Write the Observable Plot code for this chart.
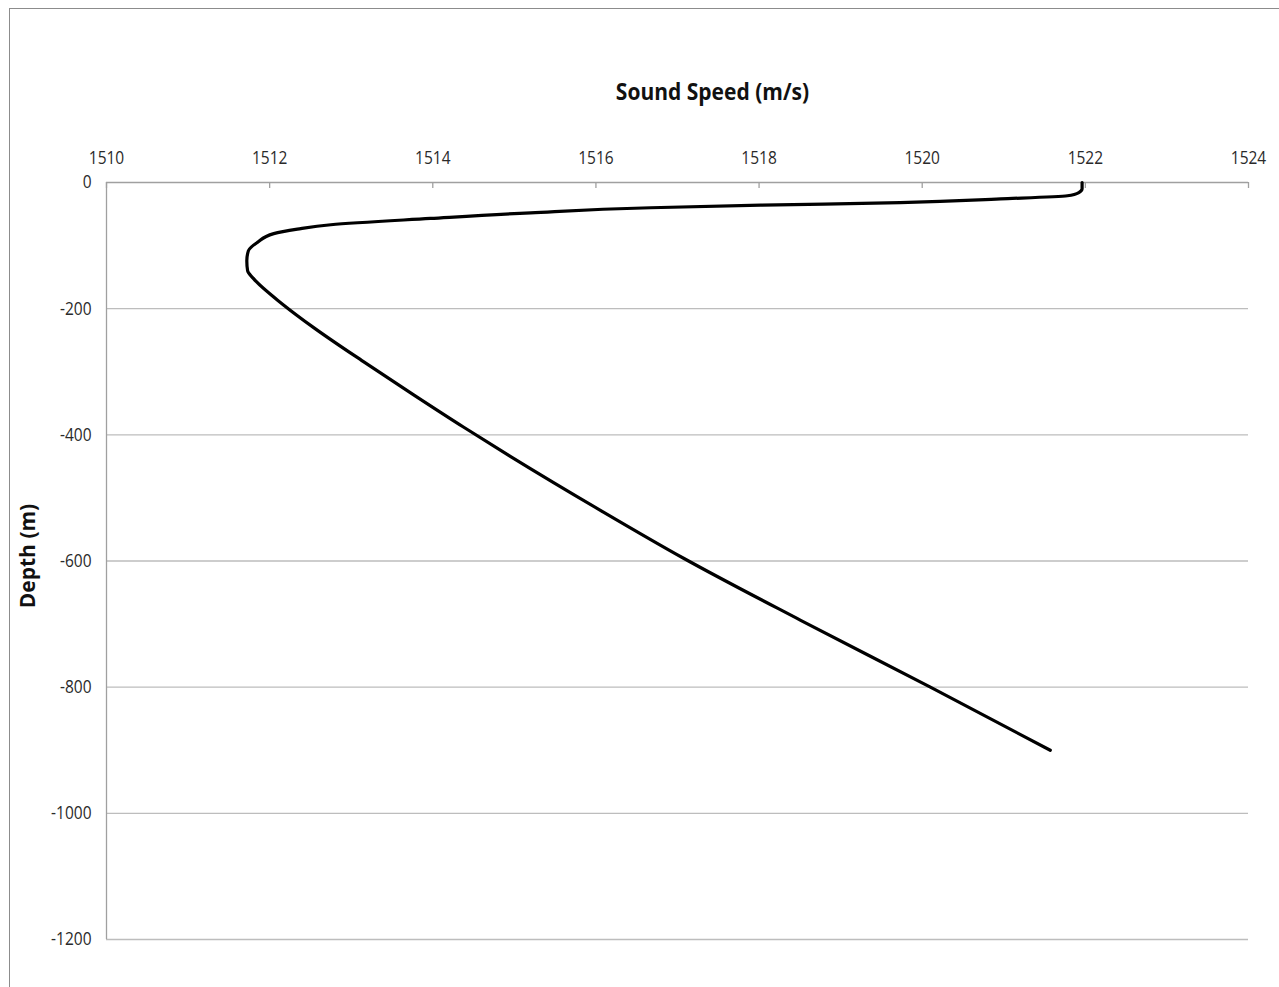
<!DOCTYPE html>
<html>
<head>
<meta charset="utf-8">
<script src="https://cdn.jsdelivr.net/npm/d3@7"></script>
<script src="https://cdn.jsdelivr.net/npm/@observablehq/plot@0.6"></script>
<style>
  html, body { margin: 0; padding: 0; background: #fff; }
  #wrap { position: relative; width: 1279px; height: 987px; overflow: hidden; background: #fff; }
  #frame { position: absolute; left: 9px; top: 8px; width: 1300px; height: 1000px; border: 1.5px solid #8c8c8c; box-sizing: border-box; }
  #title { position: absolute; left: 0; width: 1425px; top: 77px; text-align: center; font-family: "Open Sans", sans-serif; font-weight: bold; font-size: 21px; color: #111; transform: scaleY(1.12); }
  #ylabel { position: absolute; left: 27px; top: 556px; transform: translate(-50%, -50%) rotate(-90deg) scaleY(1.05); font-family: "Open Sans", sans-serif; font-weight: bold; font-size: 21px; color: #111; white-space: nowrap; }
  #chart { position: absolute; left: 0; top: 0; }
</style>
</head>
<body>
<div id="wrap">
  <div id="frame"></div>
  <div id="chart"></div>
  <div id="title">Sound Speed (m/s)</div>
  <div id="ylabel">Depth (m)</div>
</div>
<script>
// Sound speed profile
const soundSpeed = [1521.96, 1521.96, 1521.92, 1521.78, 1520.96, 1519.73, 1518.02, 1516.67, 1515.20, 1513.97, 1512.75, 1512.34, 1512.05, 1511.85, 1511.74, 1511.72, 1511.73, 1511.80, 1512.17, 1512.54, 1513.15, 1513.77, 1514.38, 1514.95, 1516.06, 1517.08, 1518.51, 1520.10, 1521.57];
const depth      = [0, -10, -16, -21, -26, -32, -36, -40, -48, -57, -67, -74, -81, -95, -108, -124, -140, -152, -194, -230, -284, -337, -388, -434, -520, -596, -694, -800, -900];

const xTicks = [1510, 1512, 1514, 1516, 1518, 1520, 1522, 1524];
const yTicks = [0, -200, -400, -600, -800, -1000, -1200];

const profile = soundSpeed.map((s, i) => ({speed: s, depth: depth[i]}));

const W = 1279, H = 987;
const mTop = 182, mBottom = 48, mLeft = 106, mRight = 31;
const innerH = H - mTop - mBottom;

const chart = Plot.plot({
  width: W,
  height: H,
  marginTop: mTop,
  marginBottom: mBottom,
  marginLeft: mLeft,
  marginRight: mRight,
  style: { fontFamily: "Open Sans, sans-serif", fontSize: "15.5px", color: "#333", background: "transparent" },
  x: { domain: [1510, 1524] },
  y: { domain: [-1200, 0] },
  marks: [
    // horizontal gridlines
    Plot.ruleY(yTicks.filter(d => d !== 0), { stroke: "#bdbdbd", strokeWidth: 1.3 }),
    // top axis line and left axis line
    Plot.ruleY([0], { stroke: "#a0a0a0", strokeWidth: 1.3 }),
    Plot.ruleX([1510], { stroke: "#a0a0a0", strokeWidth: 1.3 }),
    // inward tick marks on top axis
    Plot.ruleX(xTicks, { stroke: "#a0a0a0", strokeWidth: 1.3, insetBottom: innerH - 6 }),
    Plot.axisX(xTicks, { anchor: "top", tickSize: 0, tickPadding: 19, label: null, tickFormat: d => String(d), fill: "#2a2a2a" }),
    Plot.axisY(yTicks, { anchor: "left", tickSize: 0, tickPadding: 15, label: null, tickFormat: d => String(d), fill: "#2a2a2a" }),
    Plot.line(profile, { x: "speed", y: "depth", stroke: "#000", strokeWidth: 3.2, curve: "monotone-y", strokeLinejoin: "round", strokeLinecap: "round" })
  ]
});
// slightly taller tick glyphs, like the reference's stretched font
chart.querySelectorAll("g[aria-label='x-axis tick label'] text, g[aria-label='y-axis tick label'] text").forEach(t => {
  const tr = t.getAttribute("transform") || "";
  t.setAttribute("transform", tr + " scale(1,1.18)");
});
document.getElementById("chart").appendChild(chart);
</script>
</body>
</html>
